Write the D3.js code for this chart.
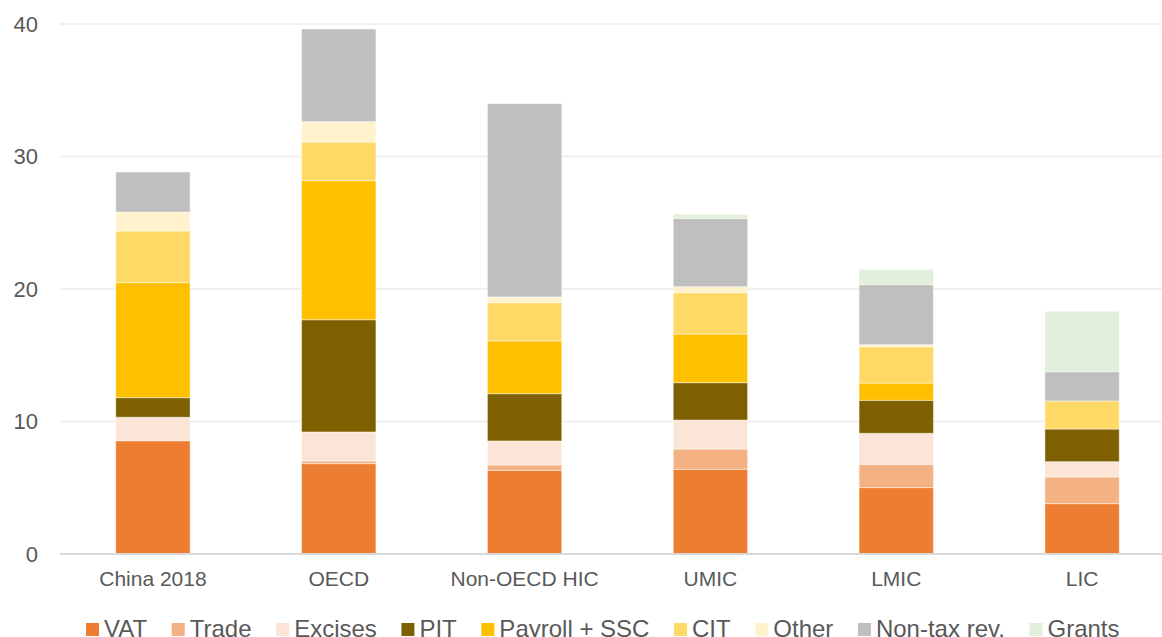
<!DOCTYPE html>
<html>
<head>
<meta charset="utf-8">
<script src="https://cdn.jsdelivr.net/npm/d3@7"></script>
<style>
  html, body { margin: 0; padding: 0; background: #fff; }
  svg { display: block; font-family: Arial, "Liberation Sans", sans-serif; }
</style>
</head>
<body>
<svg id="chart" width="1162" height="637"></svg>
<script>
// Revenue composition, % of GDP
const categories = ["China 2018", "OECD", "Non-OECD HIC", "UMIC", "LMIC", "LIC"];
const seriesNames = ["VAT", "Trade", "Excises", "PIT", "Payroll + SSC", "CIT", "Other", "Non-tax rev.", "Grants"];
const vat     = [8.55, 6.82, 6.31, 6.39, 5.01, 3.80];
const trade   = [0.00, 0.20, 0.41, 1.53, 1.76, 2.01];
const excises = [1.77, 2.19, 1.81, 2.19, 2.34, 1.16];
const pit     = [1.48, 8.47, 3.57, 2.82, 2.49, 2.46];
const payroll = [8.68, 10.50, 3.98, 3.67, 1.30, 0.00];
const cit     = [3.90, 2.91, 2.89, 3.12, 2.75, 2.12];
const other   = [1.43, 1.54, 0.43, 0.46, 0.15, 0.00];
const nontax  = [3.02, 6.99, 14.59, 5.15, 4.53, 2.21];
const grants  = [0.00, 0.00, 0.00, 0.31, 1.15, 4.56];
const yTicks  = [0, 10, 20, 30, 40];

const seriesValues = [vat, trade, excises, pit, payroll, cit, other, nontax, grants];
const colors = ["#ED7D31", "#F4B183", "#FBE5D6", "#7F6000", "#FFC000", "#FFD966", "#FFF2CC", "#BFBFBF", "#E2EFDA"];

const rows = categories.map((c, i) => {
  const r = { category: c };
  seriesNames.forEach((s, k) => { r[s] = seriesValues[k][i]; });
  return r;
});
const stacked = d3.stack().keys(seriesNames)(rows);

const svg = d3.select("#chart");
const plot = { left: 60, right: 1175, top: 24, bottom: 554 };

const x = d3.scaleBand().domain(categories).range([plot.left, plot.right]).paddingInner(0.6).paddingOuter(0.3);
const y = d3.scaleLinear().domain([0, 40]).range([plot.bottom, plot.top]);
const color = d3.scaleOrdinal().domain(seriesNames).range(colors);

// horizontal gridlines
svg.append("g")
  .selectAll("line")
  .data(yTicks.filter(t => t > 0))
  .join("line")
  .attr("x1", plot.left).attr("x2", 1162)
  .attr("y1", d => y(d)).attr("y2", d => y(d))
  .attr("stroke", "#F0F0F0").attr("stroke-width", 2);

// y axis labels
const yAxis = d3.axisLeft(y).tickValues(yTicks).tickSize(0).tickPadding(0);
const yg = svg.append("g").attr("transform", `translate(38,0)`).call(yAxis);
yg.select(".domain").remove();
yg.selectAll("text").attr("font-size", 22).attr("fill", "#595959").attr("font-family", "Arial, 'Liberation Sans', sans-serif");

// stacked bars
svg.append("g")
  .selectAll("g")
  .data(stacked)
  .join("g")
  .attr("fill", d => color(d.key))
  .selectAll("rect")
  .data(d => d.filter(p => p[1] - p[0] > 0))
  .join("rect")
  .attr("x", d => x(d.data.category))
  .attr("width", x.bandwidth())
  .attr("y", d => y(d[1]))
  .attr("height", d => y(d[0]) - y(d[1]))
  .attr("stroke", "#ffffff").attr("stroke-opacity", 0.45).attr("stroke-width", 1);

// baseline
svg.append("line")
  .attr("x1", plot.left).attr("x2", 1162)
  .attr("y1", y(0)).attr("y2", y(0))
  .attr("stroke", "#D9D9D9").attr("stroke-width", 2);

// category labels
const xAxis = d3.axisBottom(x).tickSize(0).tickPadding(0);
const xg = svg.append("g").attr("transform", `translate(0,${y(0) + 32})`).call(xAxis);
xg.select(".domain").remove();
xg.selectAll("text").attr("dy", 0).attr("font-size", 21).attr("fill", "#595959").attr("font-family", "Arial, 'Liberation Sans', sans-serif");

// legend along the bottom edge
const legend = svg.append("g").attr("transform", "translate(0,636.5)");
let cx = 86;
seriesNames.forEach((name, k) => {
  const item = legend.append("g").attr("transform", `translate(${cx},0)`);
  item.append("rect").attr("x", 0).attr("y", -13.5).attr("width", 13).attr("height", 13).attr("fill", colors[k]);
  const t = item.append("text").attr("x", 18).attr("y", 0)
    .attr("font-size", 24).attr("fill", "#595959").text(name);
  cx += 18 + t.node().getComputedTextLength() + 24.6;
});
</script>
</body>
</html>
